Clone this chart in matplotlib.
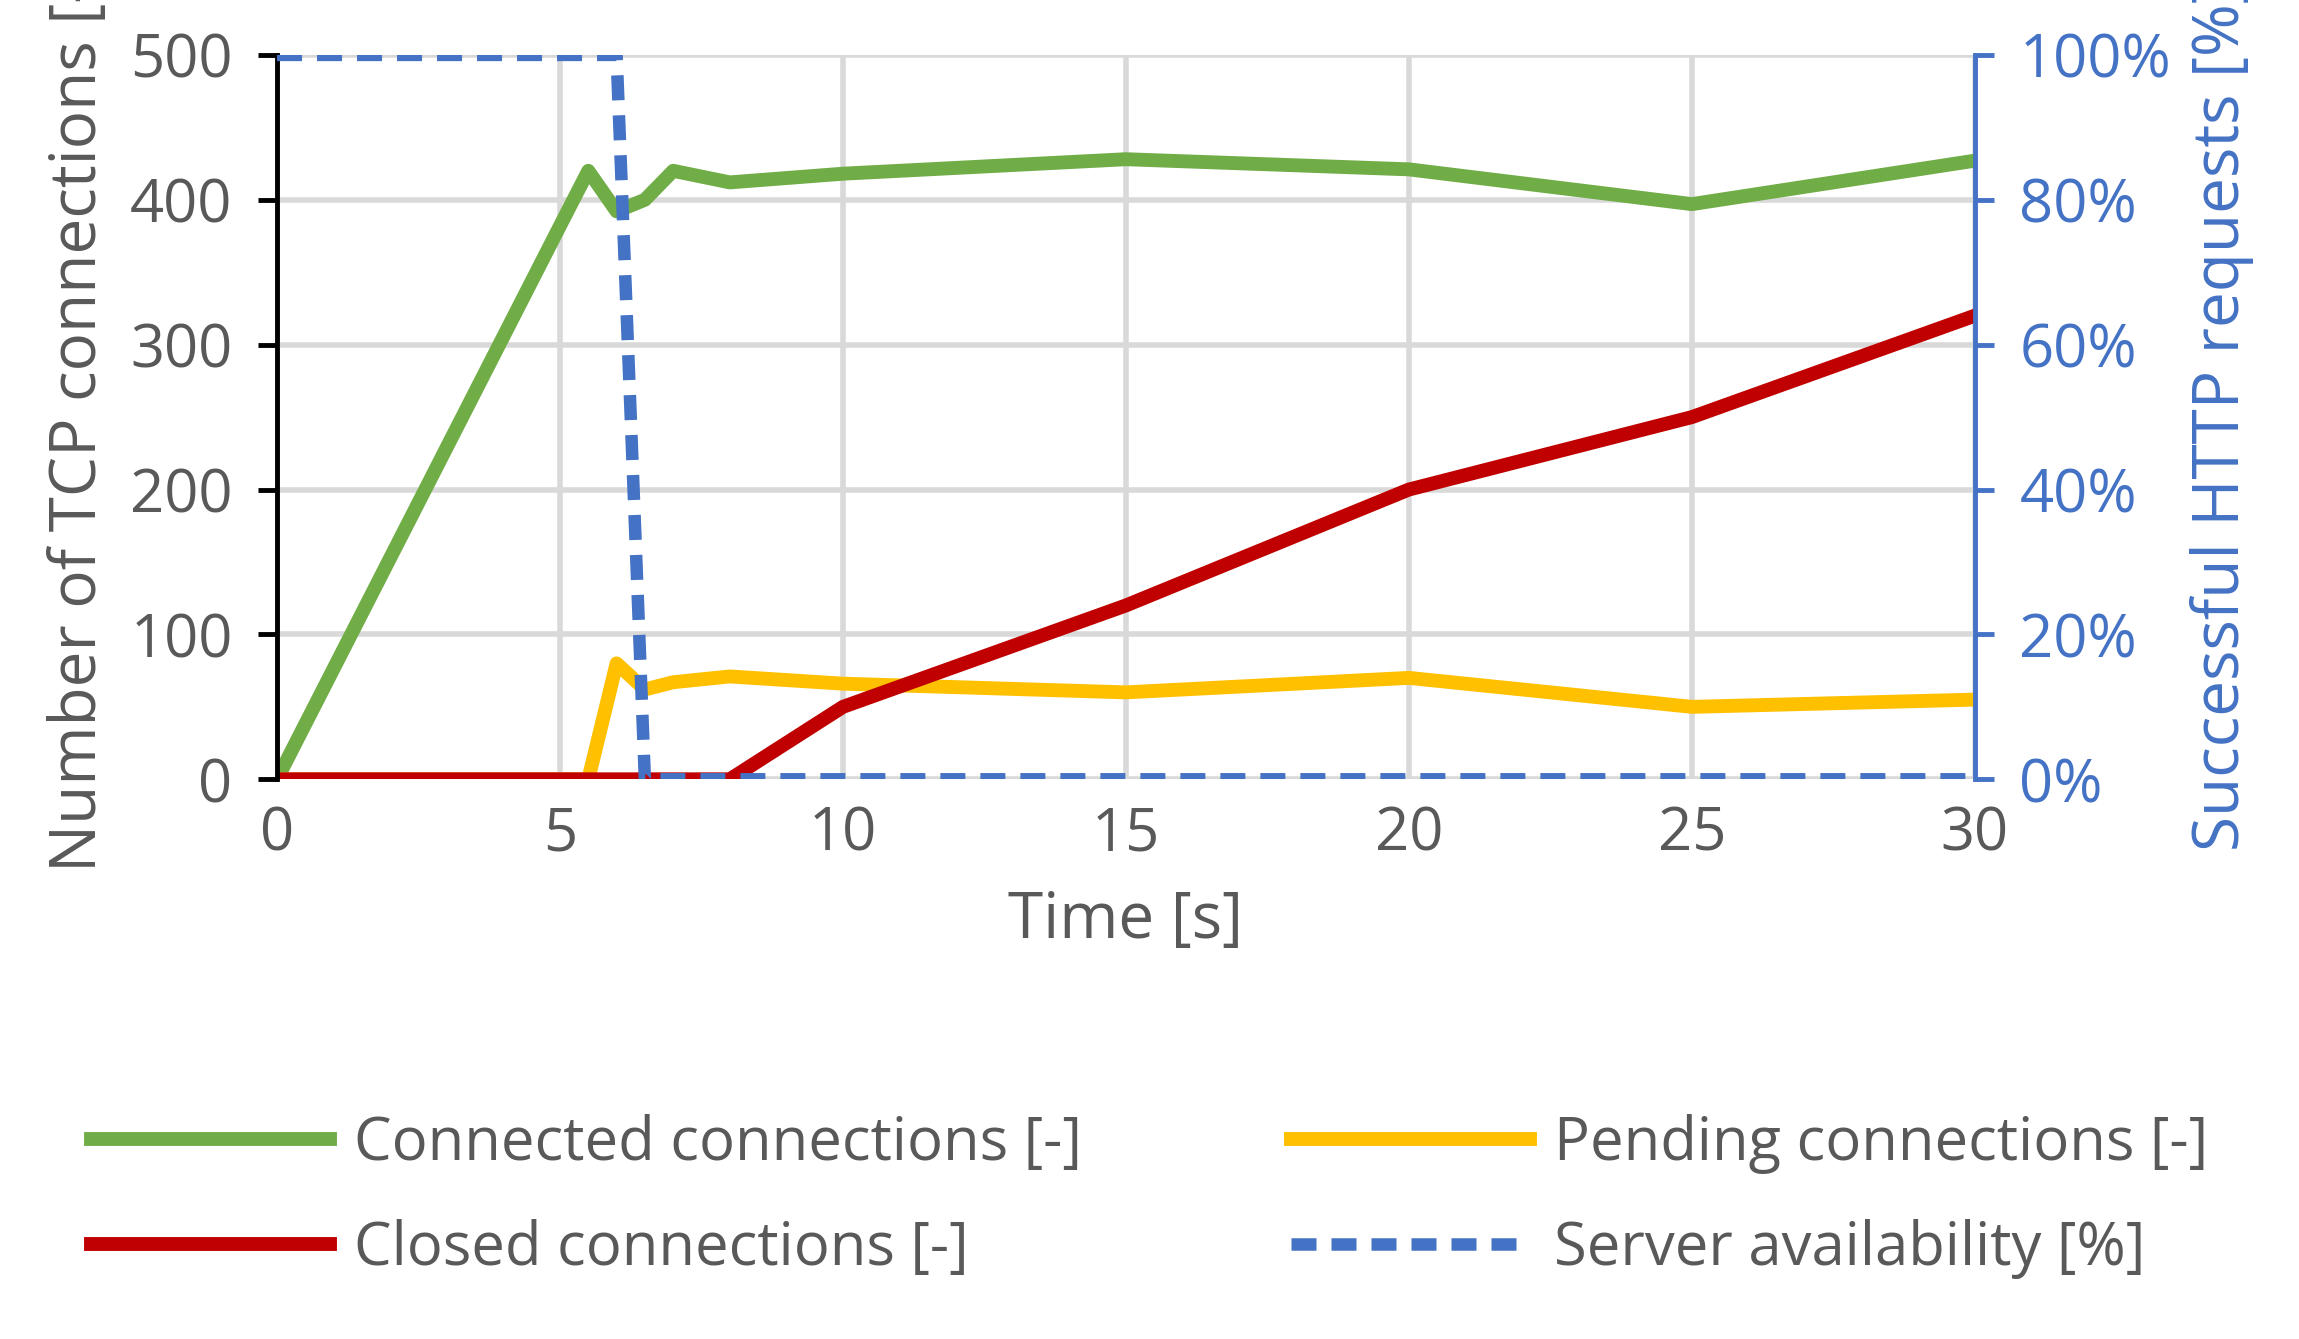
import numpy as np
import matplotlib.pyplot as plt
from matplotlib.ticker import PercentFormatter

plt.rcParams['font.family'] = ['Open Sans', 'DejaVu Sans']

# data
t = [0, 5, 5.5, 6, 6.5, 7, 8, 10, 15, 20, 25, 30]
connected = [0, 382, 420, 392, 400, 420, 412, 418, 428, 421, 397, 427]
pending = [0, 0, 0, 80, 62, 67, 71, 66, 60, 70, 50, 55]
closed = [0, 0, 0, 0, 0, 0, 0, 50, 120, 200, 250, 320]
availability = [100, 100, 100, 100, 0, 0, 0, 0, 0, 0, 0, 0]

gray = '#595959'
fig = plt.figure(figsize=(22.99, 13.39), dpi=100)
ax = fig.add_axes([0.1205, 0.418, 0.7385, 0.541])
ax2 = ax.twinx()

l1, = ax.plot(t, connected, color='#70AD47', lw=10, label='Connected connections [-]')
l2, = ax.plot(t, pending, color='#FFC000', lw=10, label='Pending connections [-]')
l3, = ax.plot(t, closed, color='#C00000', lw=10, label='Closed connections [-]')
l4, = ax2.plot(t, availability, color='#4472C4', lw=9, ls=(0, (2, 1.2)),
               label='Server availability [%]')

ax.set_xlim(0, 30)
ax.set_ylim(0, 500)
ax2.set_ylim(0, 100)
ax.set_xticks(range(0, 31, 5))
ax.set_yticks(range(0, 501, 100))
ax2.set_yticks(range(0, 101, 20))
ax2.yaxis.set_major_formatter(PercentFormatter(decimals=0))
ax.grid(True, color='#D9D9D9', lw=4)
ax.set_axisbelow(True)

for a in (ax, ax2):
    for s in ('top', 'bottom'):
        a.spines[s].set_visible(False)
ax.spines['left'].set_color('black')
ax.spines['left'].set_linewidth(3.5)
ax2.spines['left'].set_visible(False)
ax2.spines['right'].set_color('#4472C4')
ax2.spines['right'].set_linewidth(3.5)

ax.tick_params(axis='both', labelsize=43, colors=gray, length=0, pad=18)
ax.tick_params(axis='y', length=14, width=3.5, color='black', direction='out')
ax2.tick_params(axis='y', labelsize=43, colors='#4472C4', length=14, width=3.5, pad=18)

ax.set_xlabel('Time [s]', fontsize=46, color=gray, labelpad=18)
ax.set_ylabel('Number of TCP connections [-]', fontsize=46, color=gray, labelpad=14)
ax2.set_ylabel('Successful HTTP requests [%]', fontsize=46, color='#4472C4', labelpad=14)

# matplotlib fills legend columns first, so reorder to get row-wise layout
fig.legend(handles=[l1, l3, l2, l4], loc='lower center', bbox_to_anchor=(0.5, 0.005),
           ncol=2, frameon=False, fontsize=43, labelcolor=gray, handlelength=4.0,
           columnspacing=3.5, handletextpad=0.4, labelspacing=0.75)

fig.savefig('out.png', dpi=100)
